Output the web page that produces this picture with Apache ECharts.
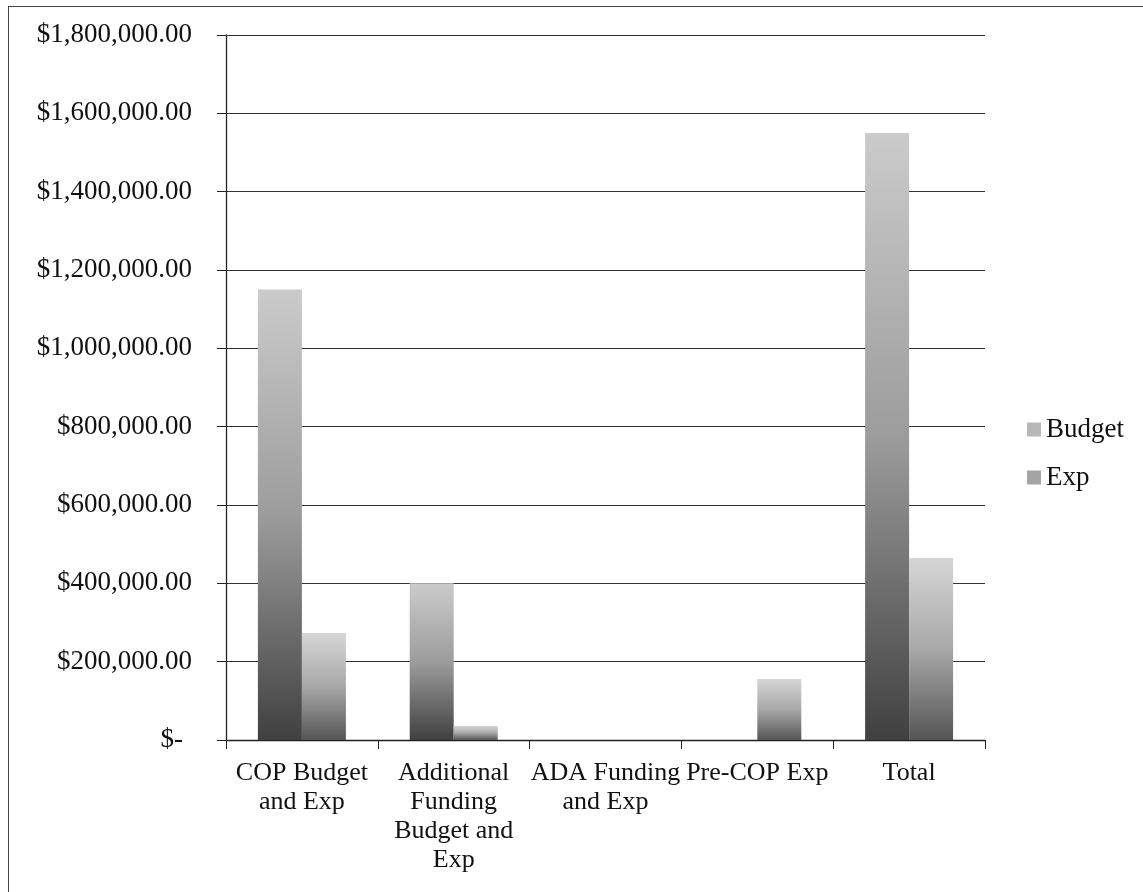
<!DOCTYPE html>
<html>
<head>
<meta charset="utf-8">
<script src="https://cdn.jsdelivr.net/npm/echarts@6/dist/echarts.min.js"></script>
<style>
html,body{margin:0;padding:0;background:#fff;}
#frame{position:absolute;left:8px;top:6px;width:1140px;height:890px;border-left:1.5px solid #444;border-top:1.5px solid #444;box-sizing:border-box;}
#chart{position:absolute;left:0;top:0;width:1143px;height:892px;}
</style>
</head>
<body>
<div id="frame"></div>
<div id="chart"></div>
<script>
var categories = ["COP Budget and Exp", "Additional Funding Budget and Exp", "ADA Funding and Exp", "Pre-COP Exp", "Total"];
var categoryLabels = ["COP Budget\nand Exp", "Additional\nFunding\nBudget and\nExp", "ADA Funding\nand Exp", "Pre-COP Exp", "Total"];
var budget = [1150000, 400000, 0, 0, 1550000];
var exp = [273000, 36000, 0, 156000, 465000];
var yTickValues = [0, 200000, 400000, 600000, 800000, 1000000, 1200000, 1400000, 1600000, 1800000];
var yTickLabels = ["$-", "$200,000.00", "$400,000.00", "$600,000.00", "$800,000.00", "$1,000,000.00", "$1,200,000.00", "$1,400,000.00", "$1,600,000.00", "$1,800,000.00"];

var FONT = "Liberation Serif";
var chart = echarts.init(document.getElementById('chart'));
function grad(top, mid, bottom) {
  return new echarts.graphic.LinearGradient(0, 0, 0, 1, [
    {offset: 0, color: top}, {offset: 0.5, color: mid}, {offset: 1, color: bottom}
  ]);
}
chart.setOption({
  animation: false,
  backgroundColor: 'transparent',
  textStyle: {fontFamily: FONT, color: '#111'},
  grid: {left: 226, right: 158, top: 35, bottom: 152},
  legend: {
    orient: 'vertical', left: 1022, top: 411, itemWidth: 14, itemHeight: 14, itemGap: 21,
    icon: 'rect',
    textStyle: {fontFamily: FONT, fontSize: 27, color: '#111'},
    data: [
      {name: 'Budget', itemStyle: {color: '#b8b8b8'}},
      {name: 'Exp', itemStyle: {color: '#a4a4a4'}}
    ]
  },
  xAxis: {
    type: 'category', data: categories,
    axisLine: {lineStyle: {color: '#222', width: 1.3}},
    axisTick: {show: true, alignWithLabel: false, length: 9, lineStyle: {color: '#222'}},
    axisLabel: {
      interval: 0, margin: 19, fontFamily: FONT, fontSize: 26, color: '#111', lineHeight: 29,
      formatter: function (v, i) { return categoryLabels[i]; }
    }
  },
  yAxis: {
    type: 'value', min: 0, max: 1800000, interval: 200000,
    axisLine: {show: true, lineStyle: {color: '#222', width: 1.3}},
    axisTick: {show: true, inside: false, length: 9, lineStyle: {color: '#222'}},
    splitLine: {lineStyle: {color: '#333', width: 1.2}},
    axisLabel: {
      margin: 34, fontFamily: FONT, fontSize: 27, color: '#111',
      formatter: function (v) {
        var i = yTickValues.indexOf(v);
        var t = i >= 0 ? yTickLabels[i] : '';
        return v === 0 ? '{z|' + t + '}' : t;
      },
      rich: {z: {fontFamily: FONT, fontSize: 27, color: '#111', padding: [0, 9, 0, 0]}}
    }
  },
  series: [
    {
      name: 'Budget', type: 'bar', data: budget, barWidth: 44, barGap: '0%',
      itemStyle: {color: grad('#cbcbcb', '#9c9c9c', '#404040')}
    },
    {
      name: 'Exp', type: 'bar', data: exp, barWidth: 44,
      itemStyle: {color: grad('#d6d6d6', '#a8a8a8', '#555555')}
    }
  ]
});
</script>
</body>
</html>
